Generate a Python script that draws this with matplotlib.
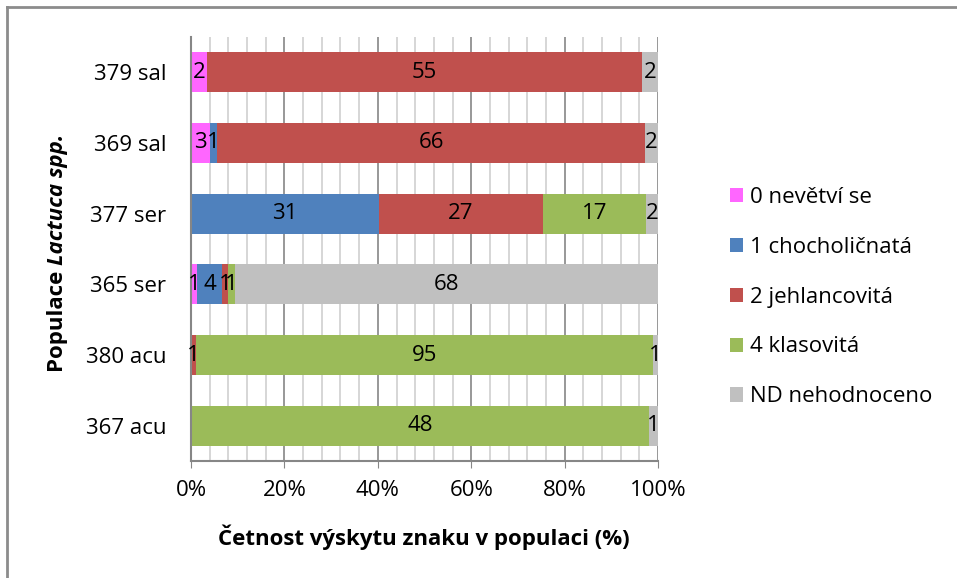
import matplotlib.pyplot as plt
import numpy as np
from matplotlib.lines import Line2D
from matplotlib.ticker import MultipleLocator, PercentFormatter

# populations, bottom to top
populations = ["367 acu", "380 acu", "365 ser", "377 ser", "369 sal", "379 sal"]
series_names = ["0 nevětví se", "1 chocholičnatá", "2 jehlancovitá",
                "4 klasovitá", "ND nehodnoceno"]
colors = ["#FF66FF", "#4F81BD", "#C0504D", "#9BBB59", "#C0C0C0"]

# counts per population for each series
nevetvi = [0, 0, 1, 0, 3, 2]
chocholicnata = [0, 0, 4, 31, 1, 0]
jehlancovita = [0, 1, 1, 27, 66, 55]
klasovita = [48, 95, 1, 17, 0, 0]
nehodnoceno = [1, 1, 68, 2, 2, 2]

counts = np.array([nevetvi, chocholicnata, jehlancovita, klasovita, nehodnoceno], dtype=float)
shares = counts / counts.sum(axis=0) * 100

plt.rcParams["font.family"] = ["Open Sans", "DejaVu Sans"]
FS = 16

fig = plt.figure(figsize=(9.57, 5.78), dpi=100)
ax = fig.add_axes([0.1996, 0.2024, 0.488, 0.7336])

y = np.arange(len(populations))
left = np.zeros(len(populations))
for name, color, share, cnt in zip(series_names, colors, shares, counts):
    bars = ax.barh(y, share, left=left, height=0.57, color=color, label=name, zorder=2)
    for b, c in zip(bars, cnt):
        if c > 0:
            ax.text(b.get_x() + b.get_width() / 2, b.get_y() + b.get_height() / 2,
                    f"{int(c)}", ha="center", va="center", fontsize=FS, color="black", zorder=3)
    left += share

ax.set_xlim(0, 100)
ax.set_ylim(-0.5, len(populations) - 0.5)
ax.set_yticks(y)
ax.set_yticklabels(populations, fontsize=FS)
ax.xaxis.set_major_locator(MultipleLocator(20))
ax.xaxis.set_minor_locator(MultipleLocator(4))
ax.xaxis.set_major_formatter(PercentFormatter(decimals=0))
ax.tick_params(axis="x", which="major", labelsize=FS, length=5, color="#868686", pad=9)
ax.tick_params(axis="x", which="minor", length=0)
ax.tick_params(axis="y", length=0, pad=18)
ax.grid(axis="x", which="major", color="#868686", linewidth=1.2, zorder=0)
ax.grid(axis="x", which="minor", color="#D0D0D0", linewidth=1.2, zorder=0)
ax.set_axisbelow(True)
for side in ["top", "right"]:
    ax.spines[side].set_visible(False)
for side in ["left", "bottom"]:
    ax.spines[side].set_color("#868686")
    ax.spines[side].set_linewidth(1.5)

fig.text(424 / 957, 1 - 537 / 578, "Četnost výskytu znaku v populaci (%)", fontsize=FS,
         fontweight="bold", ha="center", va="center")

# y label with italic genus name
t1 = fig.text(57 / 957, 1 - 372 / 578, "Populace ", rotation=90, fontsize=FS,
              fontweight="bold", ha="center", va="bottom")
fig.canvas.draw()
bb = t1.get_window_extent().transformed(fig.transFigure.inverted())
fig.text(57 / 957, bb.y1, "Lactuca spp.", rotation=90, fontsize=FS, fontweight="bold",
         style="italic", ha="center", va="bottom")

leg = fig.legend(*ax.get_legend_handles_labels(), loc="center left",
                 bbox_to_anchor=(730 / 957, 1 - 297 / 578), frameon=False, borderpad=0,
                 borderaxespad=0, fontsize=FS, handlelength=0.6, handleheight=0.6,
                 handletextpad=0.3, labelspacing=1.3)

# chart border (only top and left edges visible)
fig.add_artist(Line2D([7 / 957, 7 / 957], [0, 1 - 7 / 578], color="#8C8C8C", linewidth=2))
fig.add_artist(Line2D([7 / 957, 1], [1 - 7 / 578, 1 - 7 / 578], color="#8C8C8C", linewidth=2))

fig.savefig("out.png", dpi=100)
